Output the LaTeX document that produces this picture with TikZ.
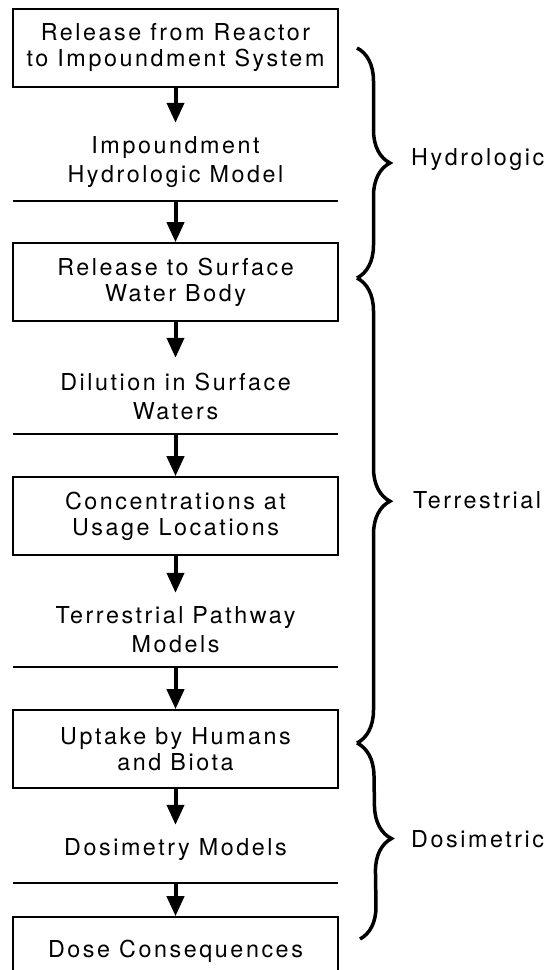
\documentclass[tikz,border=0pt]{standalone}
\usepackage{fontspec}
\setmainfont{TeX Gyre Heros}[LetterSpace=11]
\usetikzlibrary{positioning, arrows.meta, decorations.pathreplacing}

\begin{document}
\begin{tikzpicture}[x=1pt, y=1pt, node distance=38pt,
        font=\fontsize{23.3pt}{26pt}\selectfont,
        stage/.style={draw, line width=1.6pt, minimum width=325pt, minimum height=78pt, align=center, inner sep=0pt},
        model/.style={minimum width=325pt, align=center, inner sep=0pt, font=\fontsize{23.3pt}{29pt}\selectfont},
        flow/.style={line width=4pt, -{Triangle[width=17pt, length=20pt]}},
        rule/.style={line width=1.8pt},
        grp/.style={decorate, line width=3.5pt, decoration={brace, amplitude=33pt, aspect=#1}}]
        \useasboundingbox (0,0) rectangle (546,-970);

        \node[stage] (rel) at (175.5,-48) {Release from Reactor\\to Impoundment System};
        \node[model, minimum height=78pt] (imp) [below=35pt of rel] {Impoundment\\Hydrologic Model};
        \node[stage] (surf) [below=41pt of imp] {Release to Surface\\Water Body};
        \node[model, minimum height=76pt] (dil) [below=36pt of surf] {Dilution in Surface\\Waters};
        \node[stage] (conc) [below=42pt of dil] {Concentrations at\\Usage Locations};
        \node[model, minimum height=74pt] (terr) [below=37pt of conc] {Terrestrial Pathway\\Models};
        \node[stage] (upt) [below=42pt of terr] {Uptake by Humans\\and Biota};
        \node[model, minimum height=58pt, text height=16pt, text depth=13pt] (dosm) [below=36pt of upt] {Dosimetry Models};
        \node[stage, minimum height=80pt, text height=16pt, text depth=16pt] (dose) [below=33pt of dosm] {Dose Consequences};

        % model rules
        \foreach \m in {imp, dil, terr, dosm}
            \draw[rule] (\m.south west) -- (\m.south east);

        \draw[flow] (rel) -- (imp);
        \draw[flow] (imp.south) -- (surf);
        \draw[flow] (surf) -- (dil);
        \draw[flow] (dil.south) -- (conc);
        \draw[flow] (conc) -- (terr);
        \draw[flow] (terr.south) -- (upt);
        \draw[flow] (upt) -- (dosm);
        \draw[flow] (dosm.south) -- (dose);

        % braces
        \coordinate (b1) at (357,-48);
        \coordinate (b2) at (357,-278);
        \coordinate (b3) at (357,-743);
        \coordinate (b4) at (360,-939);
        \draw[grp=0.5] (b1) -- (b2);
        \draw[grp=0.48] (b2) -- (b3);
        \draw[grp=0.49] (b3) -- (b4);

        \node[anchor=west, inner sep=0pt] (hyd) at (411,-160) {Hydrologic};
        \node[anchor=west, inner sep=0pt] (ter) at (413,-500) {Terrestrial};
        \node[anchor=west, inner sep=0pt] (dos) at (411,-839) {Dosimetric};
\end{tikzpicture}
\end{document}
